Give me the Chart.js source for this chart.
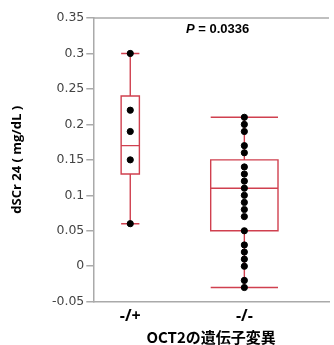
<!DOCTYPE html>
<html>
<head>
<meta charset="utf-8">
<script src="https://cdn.jsdelivr.net/npm/chart.js@4/dist/chart.umd.min.js"></script>
<style>
  html, body { margin: 0; padding: 0; background: #fff; }
  #wrap { width: 334px; height: 345px; }
</style>
</head>
<body>
<div id="wrap"><canvas id="chart1"></canvas></div>
<script>
// groups on the x axis
const groupLabels = ["-/+", "-/-"];
const groupPos = [1, 2];

// individual dSCr 24 values
const hetValues = [0.30, 0.22, 0.19, 0.15, 0.06];
const homValues = [0.21, 0.20, 0.19, 0.17, 0.16, 0.14, 0.13, 0.12, 0.11, 0.10,
                   0.09, 0.08, 0.07, 0.05, 0.03, 0.02, 0.01, 0.00, -0.02, -0.03];

// box stats per group: [min, q1, median, q3, max]
const hetBox = [0.06, 0.13, 0.17, 0.24, 0.30];
const homBox = [-0.03, 0.05, 0.11, 0.15, 0.21];

const yTicks = [-0.05, 0, 0.05, 0.1, 0.15, 0.2, 0.25, 0.3, 0.35];
const pText = "0.0336";

const boxColor = "#d0404f";
const axisColor = "#aaaaaa";

function toPoints(x, vals) {
    return vals.map(v => ({x: x, y: v}));
}

// boxes, whiskers and caps drawn through the chart scales
const boxPlugin = {
    id: "boxes",
    beforeDatasetsDraw(chart) {
        const ctx = chart.ctx;
        const xs = chart.scales.x;
        const ys = chart.scales.y;
        const boxes = [hetBox, homBox];
        const widths = [0.16, 0.59];
        ctx.save();
        ctx.strokeStyle = boxColor;
        ctx.lineWidth = 1.4;
        boxes.forEach((b, i) => {
            const cx = xs.getPixelForValue(groupPos[i]);
            const l = xs.getPixelForValue(groupPos[i] - widths[i] / 2);
            const r = xs.getPixelForValue(groupPos[i] + widths[i] / 2);
            const yMin = ys.getPixelForValue(b[0]);
            const yQ1 = ys.getPixelForValue(b[1]);
            const yMed = ys.getPixelForValue(b[2]);
            const yQ3 = ys.getPixelForValue(b[3]);
            const yMax = ys.getPixelForValue(b[4]);
            ctx.beginPath();
            ctx.rect(l, yQ3, r - l, yQ1 - yQ3);
            ctx.moveTo(l, yMed); ctx.lineTo(r, yMed);
            ctx.moveTo(cx, yQ3); ctx.lineTo(cx, yMax);
            ctx.moveTo(cx, yQ1); ctx.lineTo(cx, yMin);
            ctx.moveTo(l, yMax); ctx.lineTo(r, yMax);
            ctx.moveTo(l, yMin); ctx.lineTo(r, yMin);
            ctx.stroke();
        });
        ctx.restore();
    },
    afterDraw(chart) {
        const ctx = chart.ctx;
        const a = chart.chartArea;
        ctx.save();
        // top frame line
        ctx.strokeStyle = axisColor;
        ctx.lineWidth = 1.5;
        ctx.beginPath();
        ctx.moveTo(a.left, a.top);
        ctx.lineTo(a.right, a.top);
        ctx.stroke();
        // p value
        ctx.fillStyle = "#000";
        ctx.textBaseline = "middle";
        ctx.textAlign = "left";
        let x = 186;
        const y = 29;
        ctx.font = "italic bold 13px 'Liberation Sans', sans-serif";
        ctx.fillText("P", x, y);
        x += ctx.measureText("P").width;
        ctx.font = "bold 13px 'Liberation Sans', sans-serif";
        ctx.fillText(" = " + pText, x, y);
        ctx.restore();
    }
};

new Chart(document.getElementById("chart1"), {
    type: "scatter",
    data: {
        datasets: [{
            data: toPoints(groupPos[0], hetValues),
            backgroundColor: "#000",
            borderColor: "#000",
            pointRadius: 3.1
        }, {
            data: toPoints(groupPos[1], homValues),
            backgroundColor: "#000",
            borderColor: "#000",
            pointRadius: 3.1
        }]
    },
    options: {
        responsive: true,
        maintainAspectRatio: false,
        animation: false,
        layout: {padding: {top: 18, right: 0, left: 0, bottom: 0}},
        plugins: {
            legend: {display: false},
            tooltip: {enabled: false}
        },
        scales: {
            x: {
                type: "linear",
                min: 0.676,
                max: 2.742,
                afterFit: s => { s.height = 43.3; },
                afterBuildTicks: s => { s.ticks = groupPos.map(v => ({value: v})); },
                grid: {display: false, drawTicks: false},
                border: {display: true, color: axisColor, width: 1.5},
                ticks: {
                    padding: 5,
                    color: "#000",
                    font: {family: "'Open Sans', sans-serif", size: 16, weight: "bold"},
                    callback: v => groupLabels[groupPos.indexOf(v)]
                },
                title: {
                    display: true,
                    text: "OCT2の遺伝子変異",
                    color: "#000",
                    padding: {top: 0, bottom: 0},
                    font: {family: "'Noto Sans CJK JP', sans-serif", size: 15, weight: "bold", lineHeight: 1}
                }
            },
            y: {
                min: -0.05,
                max: 0.35,
                afterFit: s => { s.width = 93.3; },
                afterBuildTicks: s => { s.ticks = yTicks.map(v => ({value: v})); },
                grid: {drawOnChartArea: false, color: axisColor, tickLength: 7, lineWidth: 1.5},
                border: {display: true, color: axisColor, width: 1.5},
                ticks: {
                    padding: 2,
                    color: "#444",
                    font: {family: "'DejaVu Sans', sans-serif", size: 12.5},
                    callback: v => String(parseFloat(v.toFixed(2)))
                },
                title: {
                    display: true,
                    text: "dSCr 24 ( mg/dL )",
                    color: "#000",
                    padding: {top: 9, bottom: 0},
                    font: {family: "'Open Sans', sans-serif", size: 13, weight: "bold"}
                }
            }
        }
    },
    plugins: [boxPlugin]
});
</script>
</body>
</html>
